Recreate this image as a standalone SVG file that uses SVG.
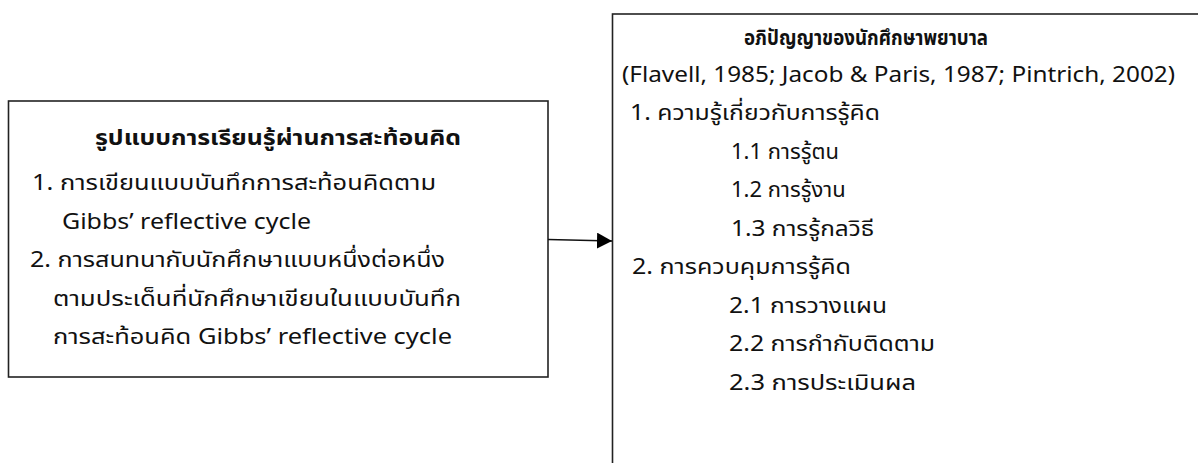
<svg xmlns="http://www.w3.org/2000/svg" width="1198" height="463" viewBox="0 0 1198 463">
<style>
  .box { fill: #ffffff; stroke: #222222; stroke-width: 1.6; }
  .t { font-family: "Noto Sans", "Noto Sans Thai", "DejaVu Sans", sans-serif; font-size: 22px; fill: #111111; }
  .b { font-weight: bold; }
  .conn { stroke: #111111; stroke-width: 1.5; fill: none; }
</style>
<defs>
  <marker id="arrow" markerUnits="userSpaceOnUse" markerWidth="15" markerHeight="16" viewBox="0 0 15 16" refX="15" refY="8" orient="auto">
    <path d="M0,0 L15,8 L0,16 Z" fill="#000000"/>
  </marker>
</defs>
<rect width="1198" height="463" fill="#ffffff"/>
<g id="node-left">
  <rect class="box" x="8.5" y="101" width="539.5" height="276"/>
  <text class="t b" x="278" y="145" text-anchor="middle" textLength="366" lengthAdjust="spacingAndGlyphs">รูปแบบการเรียนรู้ผ่านการสะท้อนคิด</text>
  <text class="t" x="32" y="190" textLength="404" lengthAdjust="spacingAndGlyphs">1. การเขียนแบบบันทึกการสะท้อนคิดตาม</text>
  <text class="t" x="62" y="228.5" textLength="249" lengthAdjust="spacingAndGlyphs">Gibbs’ reflective cycle</text>
  <text class="t" x="30" y="267" textLength="415" lengthAdjust="spacingAndGlyphs">2. การสนทนากับนักศึกษาแบบหนึ่งต่อหนึ่ง</text>
  <text class="t" x="53" y="305.5" textLength="408" lengthAdjust="spacingAndGlyphs">ตามประเด็นที่นักศึกษาเขียนในแบบบันทึก</text>
  <text class="t" x="53" y="344" textLength="399" lengthAdjust="spacingAndGlyphs">การสะท้อนคิด Gibbs’ reflective cycle</text>
</g>
<g id="node-right">
  <rect class="box" x="612.5" y="14" width="600" height="470"/>
  <text class="t b" x="866" y="45" text-anchor="middle" textLength="244" lengthAdjust="spacingAndGlyphs">อภิปัญญาของนักศึกษาพยาบาล</text>
  <text class="t" x="622" y="82" textLength="553" lengthAdjust="spacingAndGlyphs">(Flavell, 1985; Jacob &amp; Paris, 1987; Pintrich, 2002)</text>
  <text class="t" x="630" y="120" textLength="250" lengthAdjust="spacingAndGlyphs">1. ความรู้เกี่ยวกับการรู้คิด</text>
  <text class="t" x="731" y="158.5">1.1 การรู้ตน</text>
  <text class="t" x="731" y="197">1.2 การรู้งาน</text>
  <text class="t" x="731" y="235.5" textLength="143" lengthAdjust="spacingAndGlyphs">1.3 การรู้กลวิธี</text>
  <text class="t" x="632" y="274" textLength="219" lengthAdjust="spacingAndGlyphs">2. การควบคุมการรู้คิด</text>
  <text class="t" x="729" y="312.5" textLength="158" lengthAdjust="spacingAndGlyphs">2.1 การวางแผน</text>
  <text class="t" x="729" y="351" textLength="206" lengthAdjust="spacingAndGlyphs">2.2 การกำกับติดตาม</text>
  <text class="t" x="729" y="389.5" textLength="187" lengthAdjust="spacingAndGlyphs">2.3 การประเมินผล</text>
</g>
<g id="connectors">
  <line class="conn" x1="548" y1="239.5" x2="612" y2="241" marker-end="url(#arrow)"/>
</g>
</svg>
